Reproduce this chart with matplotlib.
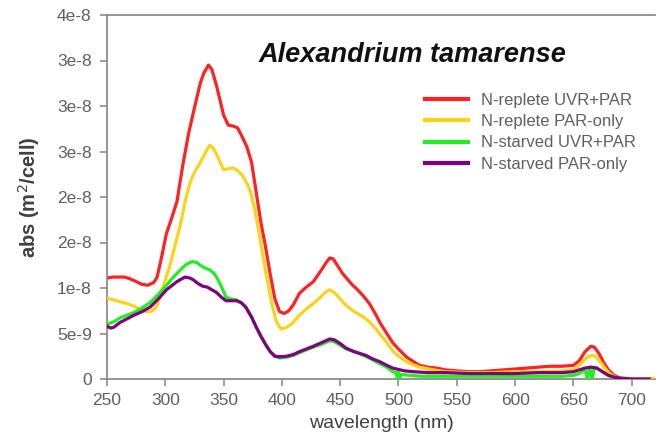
import matplotlib
matplotlib.use("Agg")
import matplotlib.pyplot as plt
import numpy as np

plt.rcParams['font.family'] = ['Liberation Sans', 'DejaVu Sans']

# ---- data (abs in units of 1e-8 m^2/cell) ----
wl_red = [250,255,260,265,270,275,280,285,290,293,297,301,305,310,315,320,325,330,333,337,340,344,350,354,358,362,366,370,374,378,382,386,390,394,398,402,406,410,415,420,427,434,438,441,444,448,452,456,460,465,470,475,480,485,490,495,500,507,513,518,525,533,540,550,560,570,580,590,600,610,620,630,640,650,655,660,665,668,672,676,680,685,690,695,700]
abs_red = [1.11,1.12,1.12,1.12,1.10,1.07,1.04,1.03,1.06,1.12,1.35,1.60,1.75,1.95,2.35,2.70,2.98,3.25,3.36,3.45,3.40,3.22,2.90,2.79,2.78,2.76,2.66,2.55,2.38,2.05,1.72,1.45,1.15,0.88,0.74,0.72,0.75,0.82,0.94,1.00,1.07,1.20,1.28,1.33,1.32,1.24,1.16,1.10,1.04,0.98,0.91,0.83,0.72,0.60,0.50,0.40,0.33,0.24,0.19,0.15,0.13,0.12,0.10,0.09,0.08,0.08,0.09,0.10,0.11,0.12,0.13,0.14,0.14,0.15,0.20,0.30,0.36,0.35,0.28,0.18,0.10,0.04,0.01,0.0,0.0]

wl_yel = [250,255,261,267,273,278,283,287,290,293,298,304,308,313,317,321,325,330,335,338,341,344,347,350,354,358,362,366,370,373,377,381,384,387,391,395,399,403,408,415,421,427,434,438,441,445,450,455,462,470,475,480,485,490,495,501,508,518,530,540,560,580,600,620,640,650,655,660,665,669,673,677,681,686,690,700,710,720]
abs_yel = [0.89,0.87,0.85,0.83,0.80,0.77,0.74,0.74,0.76,0.81,1.01,1.25,1.45,1.70,1.95,2.15,2.27,2.38,2.50,2.57,2.54,2.47,2.38,2.30,2.31,2.32,2.29,2.24,2.15,2.06,1.85,1.56,1.33,1.12,0.85,0.64,0.55,0.56,0.60,0.70,0.77,0.83,0.91,0.96,0.98,0.95,0.88,0.81,0.74,0.68,0.63,0.56,0.48,0.40,0.31,0.24,0.18,0.13,0.10,0.08,0.07,0.07,0.08,0.08,0.09,0.10,0.15,0.22,0.26,0.25,0.19,0.12,0.06,0.02,0.01,0.005,0.005,0.005]

wl_grn = [250,256,261,267,273,280,287,294,301,307,313,318,323,327,330,334,338,341,344,348,352,356,361,365,369,374,378,382,386,390,394,398,404,410,415,421,427,434,441,445,450,455,462,470,478,485,490,495,498,499,500,501,502,510,520,540,560,580,600,620,640,650,655,660,662,664,666,668,670,675,680,685,690]
abs_grn = [0.60,0.63,0.67,0.70,0.73,0.78,0.84,0.93,1.03,1.12,1.20,1.26,1.29,1.28,1.25,1.22,1.20,1.17,1.12,1.02,0.90,0.88,0.87,0.84,0.79,0.68,0.57,0.47,0.38,0.30,0.25,0.23,0.24,0.26,0.29,0.32,0.35,0.38,0.42,0.41,0.37,0.33,0.30,0.26,0.21,0.16,0.13,0.08,0.07,0.0,0.07,0.0,0.05,0.04,0.03,0.03,0.03,0.03,0.03,0.03,0.03,0.04,0.06,0.10,0.0,0.13,0.0,0.13,0.12,0.08,0.04,0.02,0.0]

wl_pur = [250,253,256,261,267,273,280,287,294,301,306,310,314,317,321,324,328,332,336,340,344,348,352,356,361,365,369,374,378,382,386,390,394,398,404,410,415,421,427,434,441,445,450,455,462,472,478,484,490,495,505,513,525,541,560,580,600,620,640,650,655,660,665,670,675,680,685,690,700,715]
abs_pur = [0.58,0.56,0.57,0.62,0.66,0.70,0.74,0.79,0.88,0.98,1.03,1.07,1.10,1.12,1.11,1.09,1.05,1.02,1.01,0.98,0.95,0.90,0.86,0.86,0.86,0.84,0.79,0.68,0.57,0.47,0.38,0.30,0.25,0.245,0.25,0.27,0.30,0.33,0.36,0.40,0.44,0.43,0.39,0.34,0.30,0.26,0.22,0.19,0.15,0.12,0.09,0.08,0.07,0.07,0.06,0.06,0.06,0.07,0.07,0.08,0.10,0.12,0.13,0.12,0.08,0.04,0.02,0.01,0.0,0.0]

labels = ["N-replete UVR+PAR", "N-replete PAR-only", "N-starved UVR+PAR", "N-starved PAR-only"]
colors = ["#FF2222", "#FFD21A", "#22EE22", "#800080"]

xticks = [250,300,350,400,450,500,550,600,650,700]
yticks = [0, 0.5e-8, 1e-8, 1.5e-8, 2e-8, 2.5e-8, 3e-8, 3.5e-8, 4e-8]
ytick_labels = ["0", "5e-9", "1e-8", "2e-8", "2e-8", "3e-8", "3e-8", "3e-8", "4e-8"]

title = "Alexandrium tamarense"

# ---- figure ----
W, H = 658, 445
fig = plt.figure(figsize=(W/100, H/100), dpi=100)
ax = fig.add_axes([107/W, 1-379/H, (655-107)/W, (379-15)/H])

series = [(wl_red, abs_red), (wl_yel, abs_yel), (wl_grn, abs_grn), (wl_pur, abs_pur)]
for i, (wl, a) in enumerate(series):
    ax.plot(wl, np.array(a)*1e-8, color=colors[i], lw=2.3, label=labels[i],
            solid_joinstyle='round', zorder=2+i)

ax.set_xlim(250, 720)
ax.set_ylim(0, 4e-8)
ax.set_xticks(xticks)
ax.set_yticks(yticks)
ax.set_yticklabels(ytick_labels)

spc = "#8c8c8c"
for s in ['left', 'bottom', 'top']:
    ax.spines[s].set_color(spc)
    ax.spines[s].set_linewidth(1.3)
ax.spines['right'].set_visible(False)
ax.tick_params(axis='both', direction='out', length=5, width=1.2, color=spc,
               labelsize=12.5, labelcolor="#5f5f5f")
ax.tick_params(axis='x', pad=5)
ax.tick_params(axis='y', pad=6)

ax.set_xlabel("wavelength (nm)", fontsize=14, color="#404040", labelpad=5)
ax.set_ylabel("abs (m$^2$/cell)", fontsize=14.5, color="#404040", fontweight='bold', labelpad=11)

# title placed in pixel-derived axes fraction
ax.text((412-107)/548, 1-(55-15)/364, title, transform=ax.transAxes, fontsize=19.5,
        fontweight='bold', fontstyle='italic', ha='center', va='center', color="#111111")

leg = ax.legend(loc='upper left', bbox_to_anchor=((418-107)/548, 1-(86-15)/364), frameon=False,
                fontsize=12, handlelength=2.6, handletextpad=0.8, labelspacing=0.38,
                borderaxespad=0)
for t in leg.get_texts():
    t.set_color("#5f5f5f")
for l in leg.get_lines():
    l.set_linewidth(3)

fig.savefig("out.png", dpi=100)
